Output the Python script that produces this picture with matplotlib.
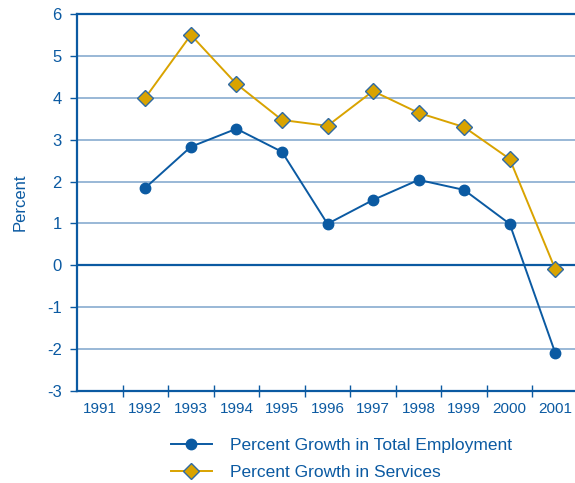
import numpy as np
import matplotlib.pyplot as plt

plt.rcParams['font.family'] = ['Liberation Sans', 'DejaVu Sans']
plt.rcParams['axes.unicode_minus'] = False

years = ['1991', '1992', '1993', '1994', '1995', '1996', '1997', '1998', '1999', '2000', '2001']
employment = [np.nan, 1.85, 2.83, 3.26, 2.71, 0.99, 1.56, 2.04, 1.80, 0.99, -2.09]
services = [np.nan, 4.0, 5.5, 4.33, 3.47, 3.33, 4.16, 3.64, 3.30, 2.54, -0.09]

blue = '#0b5aa2'
gold = '#d9a300'
grid = '#7da4cc'

fig = plt.figure(figsize=(5.75, 4.83), dpi=100)
ax = fig.add_axes([77/575, 92/483, 501/575, 377/483])

x = np.arange(len(years))
for v in range(-2, 6):
    if v == 0:
        ax.axhline(v, color=blue, lw=1.6, zorder=1)
    else:
        ax.axhline(v, color=grid, lw=1.1, zorder=1)

ax.plot(x, employment, color=blue, lw=1.4, marker='o', markersize=7.5,
        label='Percent Growth in Total Employment', zorder=3)
ax.plot(x, services, color=gold, lw=1.4, marker='D', markersize=8,
        markerfacecolor=gold, markeredgecolor='#2f6aa3', markeredgewidth=1,
        label='Percent Growth in Services', zorder=3)

ax.set_xlim(-0.5, len(years) - 0.5)
ax.set_ylim(-3, 6)
ax.set_yticks(range(-3, 7))
ax.set_xticks(x)
ax.set_xticklabels(years)
ax.set_xticks(x[:-1] + 0.5, minor=True)
ax.tick_params(axis='x', which='major', length=0, pad=8, labelsize=11, labelcolor=blue)
ax.tick_params(axis='x', which='minor', length=8, direction='inout', width=1, color=blue)
ax.tick_params(axis='y', length=5, width=1, color=blue, labelsize=12, labelcolor=blue, pad=6)

for s in ['left', 'bottom', 'top']:
    ax.spines[s].set_color(blue)
    ax.spines[s].set_linewidth(1.6)
ax.spines['right'].set_visible(False)

ax.set_ylabel('Percent', color=blue, fontsize=12, labelpad=14)

ax.legend(loc='upper left', bbox_to_anchor=(155/575, 1 - 422/483), bbox_transform=fig.transFigure,
          frameon=False, fontsize=12.5, handlelength=2.4, handletextpad=1.0, labelspacing=0.72,
          labelcolor=blue)

fig.savefig('out.png', dpi=100)
